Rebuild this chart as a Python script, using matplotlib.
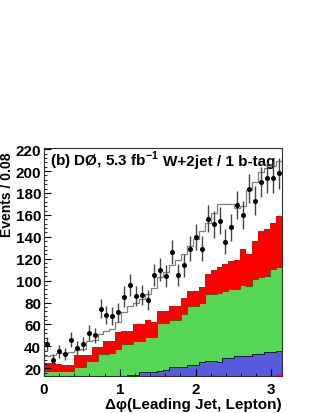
import numpy as np
import matplotlib
matplotlib.use('Agg')
import matplotlib.pyplot as plt
from matplotlib.ticker import MultipleLocator

plt.rcParams['font.family'] = ['Liberation Sans', 'DejaVu Sans']
plt.rcParams['font.weight'] = 'bold'
plt.rcParams['mathtext.fontset'] = 'custom'
plt.rcParams['mathtext.rm'] = 'Liberation Sans:bold'
plt.rcParams['mathtext.bf'] = 'Liberation Sans:bold'

# 40 bins in delta phi from 0 to pi
n_bins = 40
edges = np.linspace(0, np.pi, n_bins + 1)

# stacked backgrounds, cumulative tops
blue_top = [6, 6, 7, 7, 7, 8, 8, 8, 9, 9, 10, 10, 11, 13, 13.5, 14, 16.5, 16.5, 17, 18,
            18.4, 21, 21, 21.5, 23, 23, 25.5, 27, 27, 25.5, 29, 29, 31.5, 31.5, 31.5, 33, 33, 34.6, 34.6, 36]
green_top = [18, 18, 18, 18, 18, 21, 21, 27, 27, 33, 33, 34, 37.5, 42, 42, 45, 45, 49, 49, 61,
             61, 64, 64, 70, 77, 77, 80, 88, 88, 88.5, 91, 92.6, 92, 96, 95.5, 101.5, 103, 104.5, 110.6, 112]
red_top = [25, 25, 24, 23, 23, 32, 32, 32, 39, 39, 45, 45, 53, 54, 54, 60, 60, 64, 62, 72,
           72, 77, 77, 84, 91, 91, 94, 106, 110, 112.6, 115, 117.6, 119, 129, 124.3, 136.5, 145.6, 147.5, 152.6, 159.3]
total = [31, 32, 34, 34, 35, 37, 38, 45, 46, 51, 54, 56, 62, 71, 77, 80, 83, 88, 93, 103,
         108, 114, 119, 124, 132, 138, 145, 153, 162, 170, 170, 170, 166, 168, 183, 190, 199, 203, 205, 209]
magenta = [12] * 28 + [14.3] + [12] * 10 + [14.5]

data = [42, 28, 35.5, 33, 46, 38.5, 42, 52, 50, 74.5, 68.5, 67.3, 71, 85.5, 96, 85.7, 87, 82.6, 105, 110,
        104, 126, 105, 114, 129, 140, 129, 156.7, 151.5, 154.6, 135.6, 148.7, 169, 160, 184, 173, 190, 194, 194, 198]

fig = plt.figure(figsize=(3.2, 4.14), dpi=100)
ax = fig.add_axes([0.1375, 0.0894, 0.7437, 0.5506])

ax.stairs(total, edges, baseline=0, fill=True, facecolor='white', edgecolor='none')
ax.stairs(total, edges, baseline=None, color='#808080', linewidth=0.9)
ax.stairs(red_top, edges, baseline=0, fill=True, facecolor='#ff0000', edgecolor='none')
ax.stairs(green_top, edges, baseline=0, fill=True, facecolor='#55d655', edgecolor='none')
ax.stairs(green_top, edges, baseline=None, color='#1f6a1f', linewidth=0.7)
ax.stairs(blue_top, edges, baseline=0, fill=True, facecolor='#5a5add', edgecolor='none')
ax.stairs(blue_top, edges, baseline=None, color='#10105a', linewidth=0.7)
ax.stairs(magenta, edges, baseline=0, fill=True, facecolor='#dd00dd', edgecolor='none')

centers = 0.5 * (edges[1:] + edges[:-1])
data = np.array(data, dtype=float)
ax.errorbar(centers, data, yerr=np.sqrt(data), fmt='o', color='black', markersize=2.6,
            elinewidth=1.0, ecolor='#444444', capsize=0, zorder=5)

ax.set_xlim(0, np.pi)
ax.set_ylim(13, 221)
ax.xaxis.set_major_locator(MultipleLocator(1))
ax.xaxis.set_minor_locator(MultipleLocator(0.2))
ax.yaxis.set_major_locator(MultipleLocator(20))
ax.yaxis.set_minor_locator(MultipleLocator(4))
ax.tick_params(which='both', direction='in', top=False, right=False, labelsize=11)
ax.tick_params(which='major', length=5, width=0.8)
ax.tick_params(which='minor', length=2.5, width=0.6)
ax.tick_params(axis='x', pad=4)
ax.tick_params(axis='y', pad=2)
for s in ax.spines.values():
    s.set_linewidth(0.8)
    s.set_color('#333333')

ax.set_ylabel('Events / 0.08', loc='top', fontsize=10, fontweight='bold')
ax.yaxis.set_label_coords(-0.125, 0.985)
ax.set_xlabel('Δφ(Leading Jet, Lepton)', loc='right', fontsize=11, fontweight='bold', labelpad=1)

ax.text(0.025, 0.925, r'(b) DØ, 5.3 fb$^{\mathbf{-1}}$', transform=ax.transAxes,
        fontsize=11, fontweight='bold', va='baseline')
ax.text(0.5, 0.925, 'W+2jet / 1 b-tag', transform=ax.transAxes,
        fontsize=11, fontweight='bold', va='baseline')

fig.savefig('out.png', dpi=100)
